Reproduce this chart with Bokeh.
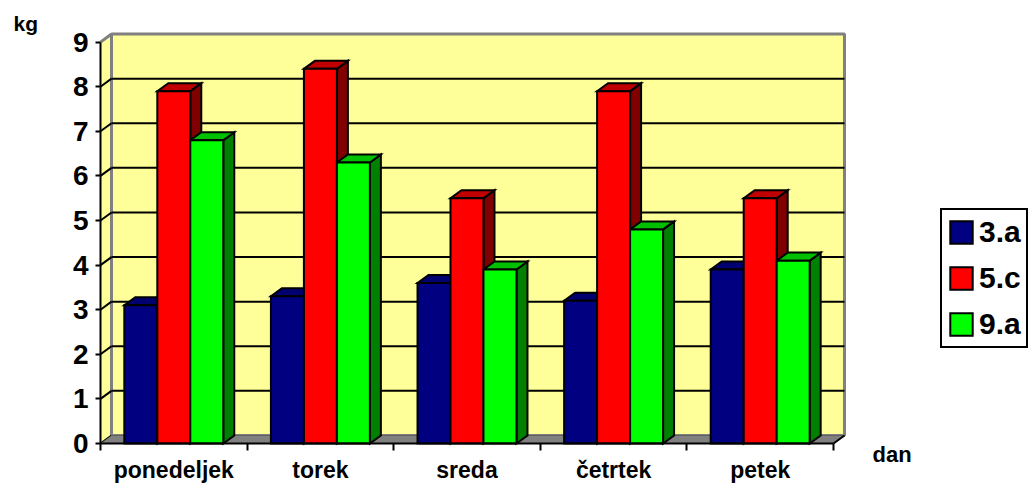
from bokeh.plotting import figure
from bokeh.models import Range1d, FixedTicker, Legend, LegendItem, Label
from bokeh.embed import file_html
from bokeh.resources import INLINE

# ---------------- data ----------------
categories = ["ponedeljek", "torek", "sreda", "četrtek", "petek"]
series_names = ["3.a", "5.c", "9.a"]
s3a = [3.1, 3.3, 3.6, 3.2, 3.9]
s5c = [7.9, 8.4, 5.5, 7.9, 5.5]
s9a = [6.8, 6.3, 3.9, 4.8, 4.1]
y_ticks = [0, 1, 2, 3, 4, 5, 6, 7, 8, 9]
x_title = "dan"
y_title = "kg"

series = [s3a, s5c, s9a]

# ---------------- style ----------------
FONT = "Liberation Sans"
front_colors = ["#000080", "#FF0000", "#00FF00"]
top_colors = ["#000070", "#C00000", "#00C000"]
side_colors = ["#000040", "#800000", "#008000"]
WALL = "#FFFF99"
FLOOR = "#808080"
EDGE = "#808080"

DX = 0.075   # depth offset (category units)
DY = 0.18    # depth offset (value units)
BW = 0.225   # bar width (category units)

n = len(categories)
ymax = y_ticks[-1]

W, H = 1031, 485
PX_X, PX_Y = 146.6, 44.6      # pixels per unit
X0_PX, Y0_PX = 100, 443       # where (0, 0) lands

p = figure(width=W, height=H,
           x_range=Range1d(-X0_PX / PX_X, (W - X0_PX) / PX_X),
           y_range=Range1d(-(H - Y0_PX) / PX_Y, Y0_PX / PX_Y),
           output_backend="svg", toolbar_location=None,
           min_border_left=0, min_border_right=0,
           min_border_top=0, min_border_bottom=0)
p.xgrid.visible = False
p.ygrid.visible = False
p.outline_line_color = None
p.background_fill_color = "white"
p.border_fill_color = "white"

# ---------------- walls ----------------
p.patch([0, DX, DX, 0], [0, DY, ymax + DY, ymax], fill_color=WALL, line_color=None)
p.quad(left=[DX], right=[n + DX], bottom=[DY], top=[ymax + DY],
       fill_color=WALL, line_color=EDGE, line_width=3)
p.line([0, DX], [ymax, ymax + DY], line_color=EDGE, line_width=3)

inner = [t for t in y_ticks if 0 < t < ymax]
p.multi_line(xs=[[DX, n + DX] for _ in inner],
             ys=[[t + DY, t + DY] for t in inner],
             line_color="black", line_width=2)
side_ticks = [t for t in y_ticks if t < ymax]
p.multi_line(xs=[[0, DX] for _ in side_ticks],
             ys=[[t, t + DY] for t in side_ticks],
             line_color="black", line_width=2)

# floor
p.patch([0, n, n + DX, DX], [0, 0, DY, DY], fill_color=FLOOR, line_color=None)
p.line([DX, n + DX], [DY, DY], line_color="#606060", line_width=1)
p.line([n, n + DX], [0, DY], line_color="black", line_width=2)

# ---------------- bars ----------------
side_xs, side_ys, side_c = [], [], []
top_xs, top_ys, top_c = [], [], []
for j, vals in enumerate(series):
    for i, v in enumerate(vals):
        x0 = i + 0.5 - 1.5 * BW + j * BW
        x1 = x0 + BW
        side_xs.append([x1, x1 + DX, x1 + DX, x1])
        side_ys.append([0, DY, v + DY, v])
        side_c.append(side_colors[j])
        top_xs.append([x0, x1, x1 + DX, x0 + DX])
        top_ys.append([v, v, v + DY, v + DY])
        top_c.append(top_colors[j])

p.patches(side_xs, side_ys, fill_color=side_c, line_color="black", line_width=2,
          line_join="miter")
p.patches(top_xs, top_ys, fill_color=top_c, line_color="black", line_width=2,
          line_join="miter")

front_renderers = []
for j, vals in enumerate(series):
    lefts = [i + 0.5 - 1.5 * BW + j * BW for i in range(n)]
    rights = [l + BW for l in lefts]
    r = p.quad(left=lefts, right=rights, bottom=[0] * n, top=vals,
               fill_color=front_colors[j], line_color="black", line_width=2,
               line_join="miter")
    front_renderers.append(r)

# ---------------- axes (fixed at the front plane) ----------------
centers = [i + 0.5 for i in range(n)]
bounds = list(range(n + 1))
xa = p.xaxis[0]
xa.fixed_location = 0
xa.ticker = FixedTicker(ticks=centers, minor_ticks=bounds)
xa.major_label_overrides = {c: name for c, name in zip(centers, categories)}
xa.major_tick_out = 0
xa.major_tick_in = 0
xa.minor_tick_out = 7
xa.minor_tick_in = 0
xa.minor_tick_line_color = "black"
xa.minor_tick_line_width = 2
xa.axis_line_width = 2
xa.axis_line_color = "black"
xa.bounds = (0, n)
xa.major_label_standoff = 6
xa.major_label_text_font = FONT
xa.major_label_text_font_style = "bold"
xa.major_label_text_font_size = "23px"
xa.major_label_text_color = "black"

ya = p.yaxis[0]
ya.fixed_location = 0
ya.ticker = FixedTicker(ticks=y_ticks)
ya.major_tick_out = 5
ya.major_tick_in = 0
ya.minor_tick_out = 0
ya.minor_tick_in = 0
ya.major_tick_line_width = 2
ya.axis_line_width = 2
ya.axis_line_color = "black"
ya.bounds = (0, ymax)
ya.major_label_standoff = 7
ya.major_label_text_font = FONT
ya.major_label_text_font_style = "bold"
ya.major_label_text_font_size = "28px"
ya.major_label_text_color = "black"

# axis titles
p.add_layout(Label(x=-87 / PX_X, y=(Y0_PX - 23) / PX_Y, text=y_title, text_font=FONT,
                   text_font_style="bold", text_font_size="21px",
                   text_color="black", text_baseline="alphabetic"))
p.add_layout(Label(x=772 / PX_X, y=-(454 - Y0_PX) / PX_Y, text=x_title, text_font=FONT,
                   text_font_style="bold", text_font_size="22px",
                   text_color="black", text_baseline="alphabetic"))

# ---------------- legend ----------------
legend = Legend(items=[LegendItem(label=nm, renderers=[r])
                       for nm, r in zip(series_names, front_renderers)],
                location=(940, 137), orientation="vertical")
legend.border_line_color = "black"
legend.border_line_alpha = 1.0
legend.border_line_width = 2
legend.background_fill_color = "white"
legend.background_fill_alpha = 1
legend.glyph_width = 28
legend.glyph_height = 28
legend.label_standoff = 4
legend.label_text_font = FONT
legend.label_text_font_style = "bold"
legend.label_text_font_size = "30px"
legend.label_text_color = "black"
legend.padding = 5
legend.spacing = 12
legend.margin = 0
p.add_layout(legend)

open("out.html", "w").write(file_html(p, INLINE))
